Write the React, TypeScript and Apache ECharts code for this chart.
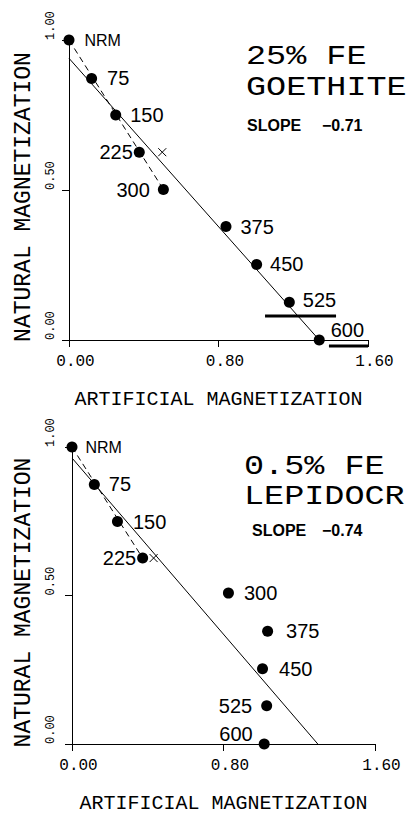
import React, { useEffect, useRef } from "react";
import * as echarts from "echarts";

// ---------- data ----------
const pointNames = ["NRM", "75", "150", "225", "300", "375", "450", "525", "600"];

// 25% Fe goethite
const goeX = [0, 0.121, 0.25, 0.376, 0.505, 0.84, 1.004, 1.179, 1.339];
const goeY = [1.0, 0.872, 0.75, 0.626, 0.502, 0.378, 0.252, 0.126, 0.0];
const goeCross = [[0.499, 0.626]];
const goeFit = [[0, 0.939], [1.339, 0]];
const goeDashed = [[0, 1.0], [0.505, 0.502]];
const goeBarA = [[1.049, 0.08], [1.429, 0.08]];
const goeBarB = [[1.391, -0.02], [1.6, -0.02]];
const goeSlope = "−0.71";

// 0.5% Fe lepidocrocite
const lepX = [0, 0.118, 0.24, 0.373, 0.826, 1.033, 1.006, 1.028, 1.015];
const lepY = [1.0, 0.874, 0.749, 0.626, 0.508, 0.38, 0.253, 0.129, 0.0];
const lepCross = [[0.431, 0.626]];
const lepFit = [[0, 0.963], [1.298, 0]];
const lepDashed = [[0, 1.0], [0.373, 0.626]];
const lepSlope = "−0.74";

const xTicks = { min: 0, max: 1.6, interval: 0.8 };
const yTicks = { min: 0, max: 1.0, interval: 0.5 };

// ---------- styling / layout ----------
const PLOT_FONT = '"Liberation Mono", "DejaVu Sans Mono", monospace';
const LAB_FONT = '"Liberation Sans", Arial, sans-serif';

const goeSide = ["right", "right", "right", "left", "left", "right", "right", "right", "right"];
const goeDist = [10, 10, 9, 1, 8, 9, 8, 8, 6];
const goeDy = [0, 0, 0, 0, 1, 0, 0, -2, -10];

const lepSide = ["right", "right", "right", "left", "right", "right", "right", "left", "left"];
const lepDist = [8, 9, 10, 1, 10, 13, 11, 9, 6];
const lepDy = [0, 0, 0, 0, 0, 0, 0, 0, -10];

function buildAxes(gridIndex: number, yLabelMargin: number, yNameGap: number) {
  const fmt = (v: number) => v.toFixed(2);
  return {
    x: {
      gridIndex,
      type: "value",
      min: xTicks.min,
      max: xTicks.max,
      interval: xTicks.interval,
      axisLine: { show: true, onZero: false, lineStyle: { color: "#000", width: 1 } },
      axisTick: { show: true, length: 7, lineStyle: { color: "#000", width: 1 } },
      axisLabel: {
        formatter: fmt,
        fontFamily: PLOT_FONT,
        fontSize: 16,
        color: "#000",
        margin: 14,
        padding: [0, 0, 0, 13],
      },
      splitLine: { show: false },
      name: "ARTIFICIAL MAGNETIZATION",
      nameLocation: "middle",
      nameGap: 49,
      nameTextStyle: { fontFamily: PLOT_FONT, fontSize: 20, color: "#000" },
    },
    y: {
      gridIndex,
      type: "value",
      min: yTicks.min,
      max: yTicks.max,
      interval: yTicks.interval,
      axisLine: { show: true, onZero: false, lineStyle: { color: "#000", width: 1 } },
      axisTick: { show: true, length: 7, lineStyle: { color: "#000", width: 1 } },
      axisLabel: {
        formatter: fmt,
        rotate: 90,
        align: "left",
        fontFamily: PLOT_FONT,
        fontSize: 12,
        color: "#000",
        margin: yLabelMargin,
        padding: [0, 0, 0, 0],
      },
      splitLine: { show: false },
      name: "NATURAL MAGNETIZATION",
      nameLocation: "middle",
      nameRotate: 90,
      nameGap: yNameGap,
      nameTextStyle: {
        fontFamily: PLOT_FONT,
        fontSize: 23,
        color: "#000",
        padding: [0, 14, 0, 0],
      },
    },
  };
}

function buildSeries(
  idx: number,
  xs: number[],
  ys: number[],
  side: string[],
  dist: number[],
  dy: number[],
  fit: number[][],
  dashed: number[][],
  cross: number[][]
) {
  const pts = xs.map((x, i) => ({
    name: pointNames[i],
    value: [x, ys[i]],
    label: {
      position: side[i],
      distance: dist[i],
      offset: [0, dy[i]],
      fontSize: pointNames[i] === "NRM" ? 16 : 20,
    },
  }));
  return [
    {
      type: "line",
      xAxisIndex: idx,
      yAxisIndex: idx,
      data: fit,
      symbol: "none",
      silent: true,
      clip: false,
      lineStyle: { color: "#000", width: 1 },
      z: 2,
    },
    {
      type: "line",
      xAxisIndex: idx,
      yAxisIndex: idx,
      data: dashed,
      symbol: "none",
      silent: true,
      clip: false,
      lineStyle: { color: "#000", width: 1, type: [6, 4] },
      z: 2,
    },
    {
      type: "scatter",
      xAxisIndex: idx,
      yAxisIndex: idx,
      data: cross,
      symbol: "path://M0 0L10 10M10 0L0 10",
      symbolSize: 8,
      itemStyle: { color: "none", borderColor: "#000", borderWidth: 1, opacity: 1 },
      z: 3,
    },
    {
      type: "scatter",
      xAxisIndex: idx,
      yAxisIndex: idx,
      data: pts,
      symbol: "circle",
      symbolSize: 11,
      itemStyle: { color: "#000", opacity: 1 },
      label: {
        show: true,
        formatter: "{b}",
        fontFamily: LAB_FONT,
        color: "#000",
        opacity: 1,
      },
      z: 4,
    },
  ];
}

export default function App() {
  const ref = useRef<HTMLDivElement>(null);

  useEffect(() => {
    if (!ref.current) return;
    const chart = echarts.init(ref.current, null, { renderer: "svg" });
    const a0 = buildAxes(0, 12, 34);
    const a1 = buildAxes(1, 15, 37);

    const series: any[] = [
      ...buildSeries(0, goeX, goeY, goeSide, goeDist, goeDy, goeFit, goeDashed, goeCross),
      ...buildSeries(1, lepX, lepY, lepSide, lepDist, lepDy, lepFit, lepDashed, lepCross),
      {
        type: "line",
        xAxisIndex: 0,
        yAxisIndex: 0,
        data: goeBarA,
        symbol: "none",
        silent: true,
        clip: false,
        lineStyle: { color: "#000", width: 3 },
      },
      {
        type: "line",
        xAxisIndex: 0,
        yAxisIndex: 0,
        data: goeBarB,
        symbol: "none",
        silent: true,
        clip: false,
        lineStyle: { color: "#000", width: 3 },
      },
    ];

    const titleStyle = { fontFamily: PLOT_FONT, fontSize: 27, fill: "#000", verticalAlign: "middle" };
    const slopeStyle = { fontFamily: LAB_FONT, fontSize: 16, fontWeight: "bold", fill: "#000", verticalAlign: "middle" };
    const TS = 1.24;

    chart.setOption({
      animation: false,
      backgroundColor: "#fff",
      grid: [
        { left: 69, top: 40, width: 299, height: 300 },
        { left: 72, top: 447, width: 303, height: 302 },
      ],
      xAxis: [a0.x, a1.x],
      yAxis: [a0.y, a1.y],
      series,
      graphic: [
        { type: "text", x: 246, y: 57, scaleX: TS, style: { ...titleStyle, text: "25% FE" } },
        { type: "text", x: 246, y: 88, scaleX: TS, style: { ...titleStyle, text: "GOETHITE" } },
        { type: "text", x: 247, y: 125, style: { ...slopeStyle, text: "SLOPE" } },
        { type: "text", x: 322, y: 125, style: { ...slopeStyle, text: goeSlope } },
        { type: "text", x: 244, y: 467, scaleX: TS, style: { ...titleStyle, text: "0.5% FE" } },
        { type: "text", x: 244, y: 497, scaleX: TS, style: { ...titleStyle, text: "LEPIDOCR" } },
        { type: "text", x: 252, y: 530, style: { ...slopeStyle, text: "SLOPE" } },
        { type: "text", x: 322, y: 530, style: { ...slopeStyle, text: lepSlope } },
      ],
    });
    return () => chart.dispose();
  }, []);

  return (
    <div
      ref={ref}
      style={{ position: "absolute", left: 0, top: 0, width: 416, height: 814, background: "#fff" }}
    />
  );
}
